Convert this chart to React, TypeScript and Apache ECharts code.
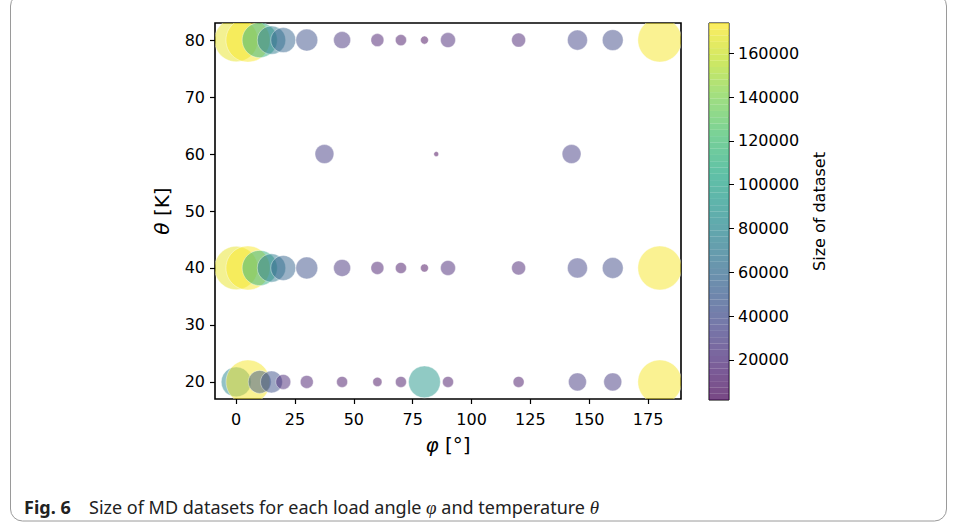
import React, { useEffect, useRef } from "react";
import * as echarts from "echarts";

// ---- data ----
const phiTicks = [0, 25, 50, 75, 100, 125, 150, 175];
const thetaTicks = [20, 30, 40, 50, 60, 70, 80];
const sizeTicks = [20000, 40000, 60000, 80000, 100000, 120000, 140000, 160000];

const phiRow80 = [0, 5, 10, 15, 20, 30, 45, 60, 70, 80, 90, 120, 145, 160, 180];
const sizeRow80 = [168000, 173000, 110000, 72000, 56000, 43000, 26000, 15000, 11000, 5700, 20000, 17500, 36000, 39000, 172000];
const phiRow40 = [0, 5, 10, 15, 20, 30, 45, 60, 70, 80, 90, 120, 145, 160, 180];
const sizeRow40 = [168000, 173000, 110000, 72000, 56000, 43000, 26000, 15000, 11000, 5700, 20000, 17500, 36000, 39000, 172000];
const phiRow60 = [37.5, 85, 142.5];
const sizeRow60 = [32000, 2200, 32000];
const phiRow20 = [0, 5, 10, 15, 20, 30, 45, 60, 70, 80, 90, 120, 145, 160, 180];
const sizeRow20 = [80000, 172000, 47000, 43000, 20000, 15000, 10800, 7500, 10800, 91000, 10800, 10800, 29000, 29000, 172000];

const sizeMin = 1700;
const sizeMax = 173800;

const VIRIDIS = ["#440154", "#482475", "#414487", "#355f8d", "#2a788e", "#21918c", "#22a884", "#44bf70", "#7ad151", "#bddf26", "#fde725"];

function hexToRgb(h: string) {
  return [parseInt(h.slice(1, 3), 16), parseInt(h.slice(3, 5), 16), parseInt(h.slice(5, 7), 16)];
}
function viridis(t: number) {
  const c = Math.max(0, Math.min(1, t)) * (VIRIDIS.length - 1);
  const i = Math.min(Math.floor(c), VIRIDIS.length - 2);
  const f = c - i;
  const a = hexToRgb(VIRIDIS[i]);
  const b = hexToRgb(VIRIDIS[i + 1]);
  const m = a.map((v, k) => Math.round(v + (b[k] - v) * f));
  return `rgb(${m[0]},${m[1]},${m[2]})`;
}
const norm = (v: number) => (v - sizeMin) / (sizeMax - sizeMin);

function buildPoints() {
  const pts: number[][] = [];
  const rows: [number[], number[], number][] = [
    [phiRow80, sizeRow80, 80],
    [phiRow60, sizeRow60, 60],
    [phiRow40, sizeRow40, 40],
    [phiRow20, sizeRow20, 20],
  ];
  rows.forEach(([phis, sizes, th]) => {
    phis.forEach((p, i) => pts.push([p, th, sizes[i]]));
  });
  return pts;
}

const FONT = "DejaVu Sans";

export default function App() {
  const ref = useRef<HTMLDivElement>(null);
  useEffect(() => {
    if (!ref.current) return;
    const chart = echarts.init(ref.current, undefined, { renderer: "svg" });
    const points = buildPoints();
    const nBands = 60;
    const bands: number[][] = [];
    for (let i = 0; i < nBands; i++) {
      const lo = sizeMin + ((sizeMax - sizeMin) * i) / nBands;
      const hi = sizeMin + ((sizeMax - sizeMin) * (i + 1)) / nBands;
      bands.push([0, lo, hi]);
    }
    const k = 44 / Math.sqrt(173000);

    chart.setOption({
      animation: false,
      backgroundColor: "#fff",
      grid: [
        { left: 215, top: 23, width: 466, height: 376, show: true, borderColor: "#000", borderWidth: 1.6, backgroundColor: "transparent" },
        { left: 709, top: 23, width: 20, height: 377, show: true, borderColor: "#000", borderWidth: 1, backgroundColor: "transparent" },
      ],
      xAxis: [
        {
          gridIndex: 0,
          type: "value",
          min: -9,
          max: 189,
          axisLine: { show: false, onZero: false },
          splitLine: { show: false },
          axisTick: { show: true, inside: false, length: 5, customValues: phiTicks, lineStyle: { color: "#000", width: 1.2 } },
          axisLabel: { customValues: phiTicks, color: "#000", fontSize: 16, fontFamily: FONT, margin: 12 },
          name: "{i|φ} [°]",
          nameLocation: "middle",
          nameGap: 36,
          nameTextStyle: { fontSize: 20, fontFamily: FONT, color: "#000", rich: { i: { fontSize: 20, fontFamily: FONT, fontStyle: "italic", color: "#000" } } },
        },
        { gridIndex: 1, type: "value", min: 0, max: 1, show: false },
      ],
      yAxis: [
        {
          gridIndex: 0,
          type: "value",
          min: 17,
          max: 83,
          axisLine: { show: false, onZero: false },
          splitLine: { show: false },
          axisTick: { show: true, inside: false, length: 5, customValues: thetaTicks, lineStyle: { color: "#000", width: 1.2 } },
          axisLabel: { customValues: thetaTicks, color: "#000", fontSize: 16, fontFamily: FONT, margin: 10 },
          name: "{i|θ} [K]",
          nameLocation: "middle",
          nameGap: 43,
          nameRotate: 90,
          nameTextStyle: { fontSize: 20, fontFamily: FONT, color: "#000", rich: { i: { fontSize: 20, fontFamily: FONT, fontStyle: "italic", color: "#000" } } },
        },
        {
          gridIndex: 1,
          type: "value",
          position: "right",
          min: sizeMin,
          max: sizeMax,
          axisLine: { show: false, onZero: false },
          splitLine: { show: false },
          axisTick: { show: true, inside: false, length: 5, customValues: sizeTicks, lineStyle: { color: "#000", width: 1 } },
          axisLabel: { customValues: sizeTicks, color: "#000", fontSize: 16, fontFamily: FONT, margin: 9, formatter: (v: number) => String(v) },
          name: "Size of dataset",
          nameLocation: "middle",
          nameGap: 82,
          nameRotate: 90,
          nameTextStyle: { fontSize: 16, fontFamily: FONT, color: "#000" },
        },
      ],
      series: [
        {
          type: "custom",
          xAxisIndex: 0,
          yAxisIndex: 0,
          clip: true,
          data: points,
          renderItem: (params: any, api: any) => {
            const pt = api.coord([api.value(0), api.value(1)]);
            const v = api.value(2);
            const r = (k * Math.sqrt(v)) / 2;
            return {
              type: "circle",
              shape: { cx: pt[0], cy: pt[1], r },
              style: { fill: viridis(norm(v)), stroke: "#ffffff", lineWidth: 0.8, opacity: 0.5 },
            };
          },
        },
        {
          type: "custom",
          xAxisIndex: 1,
          yAxisIndex: 1,
          clip: true,
          data: bands,
          renderItem: (params: any, api: any) => {
            const lo = api.value(1);
            const hi = api.value(2);
            const p1 = api.coord([0, hi]);
            const p2 = api.coord([1, lo]);
            return {
              type: "rect",
              shape: { x: p1[0], y: p1[1], width: p2[0] - p1[0], height: p2[1] - p1[1] },
              style: { fill: viridis(norm((lo + hi) / 2)), opacity: 0.72 },
            };
          },
        },
      ],
      graphic: [
        {
          type: "rect",
          shape: { x: 10.5, y: -6, width: 936, height: 527, r: 12 },
          style: { fill: "none", stroke: "#9a9a9a", lineWidth: 1 },
          silent: true,
        },
        {
          type: "text",
          x: 24,
          y: 507,
          style: {
            text: "{b|Fig. 6}",
            verticalAlign: "middle",
            rich: { b: { fontFamily: "Noto Sans", fontSize: 18, fontWeight: "bold", fill: "#222" } },
          },
        },
        {
          type: "text",
          x: 89,
          y: 507,
          style: {
            text: "{a|Size of MD datasets for each load angle }{g|φ}{a| and temperature }{g|θ}",
            verticalAlign: "middle",
            rich: {
              a: { fontFamily: "Noto Sans", fontSize: 18, fill: "#222" },
              g: { fontFamily: "Liberation Serif", fontSize: 19, fontStyle: "italic", fill: "#222" },
            },
          },
        },
      ],
    });
    return () => chart.dispose();
  }, []);
  return <div ref={ref} style={{ position: "fixed", left: 0, top: 0, width: 956, height: 527 }} />;
}
